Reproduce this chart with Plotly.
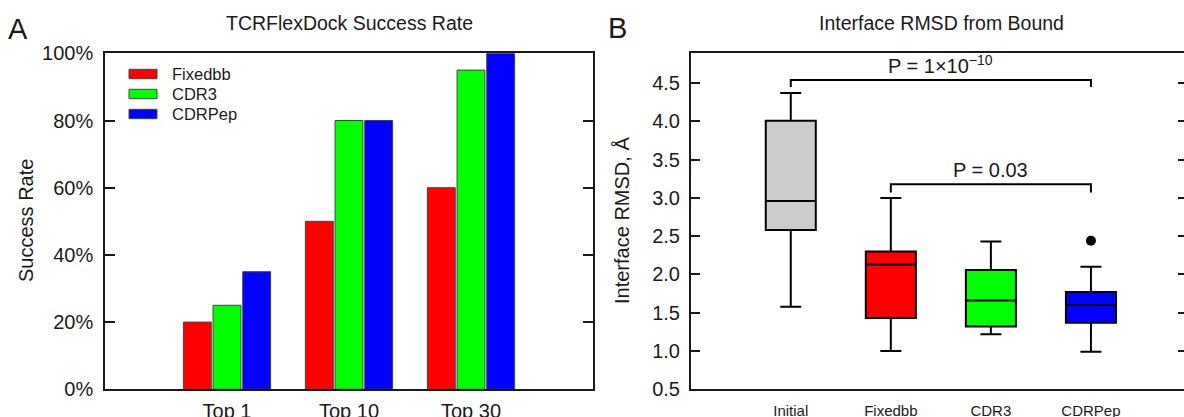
import plotly.graph_objects as go

# ---------------- data ----------------
# Panel A: success rate (%)
rank_categories = ["Top 1", "Top 10", "Top 30"]
series_names = ["Fixedbb", "CDR3", "CDRPep"]
fixedbb_rate = [20, 50, 60]
cdr3_rate = [25, 80, 95]
cdrpep_rate = [35, 80, 100]

# Panel B: interface RMSD box statistics (Å)
box_names = ["Initial", "Fixedbb", "CDR3", "CDRPep"]
box_q1 = [2.58, 1.43, 1.32, 1.37]
box_median = [2.96, 2.13, 1.66, 1.60]
box_q3 = [4.01, 2.30, 2.06, 1.77]
box_lower = [1.58, 1.00, 1.22, 0.99]
box_upper = [4.37, 3.00, 2.43, 2.10]
outlier_group = ["CDRPep"]
outlier_value = [2.44]

# significance brackets
bracket_from = ["Initial", "Fixedbb"]
bracket_to = ["CDRPep", "CDRPep"]
bracket_level = [4.54, 3.18]
bracket_drop = [4.45, 3.07]
bracket_label = ["P = 1×10<sup>−10</sup>", "P = 0.03"]

# ---------------- styling ----------------
W, H = 1184, 417
FONT = "Liberation Sans, Arial, Helvetica, sans-serif"
INK = "#1a1a1a"
bar_colors = ["#ff0000", "#00ff00", "#0000ff"]
box_colors = ["#cccccc", "#ff0000", "#00ff00", "#0000ff"]


def px(x):
    return x / W


def py(y):
    return 1 - y / H


fig = go.Figure()

for name, vals, col in zip(series_names, [fixedbb_rate, cdr3_rate, cdrpep_rate], bar_colors):
    fig.add_trace(go.Bar(
        x=rank_categories, y=vals, name=name, marker=dict(color=col, line=dict(color="#444444", width=1)),
        xaxis="x", yaxis="y", showlegend=False,
    ))

pos = {n: i + 1 for i, n in enumerate(box_names)}
for i, n in enumerate(box_names):
    fig.add_trace(go.Box(
        x=[pos[n]], q1=[box_q1[i]], median=[box_median[i]], q3=[box_q3[i]],
        lowerfence=[box_lower[i]], upperfence=[box_upper[i]],
        width=0.5, whiskerwidth=0.42, fillcolor=box_colors[i],
        line=dict(color="black", width=2), boxpoints=False,
        xaxis="x2", yaxis="y2", showlegend=False, name=n,
    ))

fig.add_trace(go.Scatter(
    x=[pos[g] for g in outlier_group], y=outlier_value, mode="markers",
    marker=dict(color="black", size=10), xaxis="x2", yaxis="y2", showlegend=False,
))
# invisible trace to keep right-side tick axis
fig.add_trace(go.Scatter(x=[1], y=[1], mode="markers", marker=dict(opacity=0),
                         xaxis="x2", yaxis="y3", showlegend=False, hoverinfo="skip"))

shapes = []
annotations = []
for f, t, lvl, drop, lab in zip(bracket_from, bracket_to, bracket_level, bracket_drop, bracket_label):
    x0, x1 = pos[f], pos[t]
    shapes.append(dict(type="path", xref="x2", yref="y2",
                       path=f"M {x0},{drop} L {x0},{lvl} L {x1},{lvl} L {x1},{drop}",
                       line=dict(color="black", width=2)))
    annotations.append(dict(x=(x0 + x1) / 2, y=lvl, xref="x2", yref="y2", text=lab,
                            showarrow=False, yanchor="bottom", yshift=1,
                            font=dict(family=FONT, size=20, color=INK)))

# manual legend for panel A
leg_y = [74, 94, 114]
for name, col, yy in zip(series_names, bar_colors, leg_y):
    shapes.append(dict(type="rect", xref="paper", yref="paper",
                       x0=px(129), x1=px(157), y0=py(yy + 4.7), y1=py(yy - 4.7),
                       fillcolor=col, line=dict(color="#444444", width=1)))
    annotations.append(dict(x=px(170), y=py(yy), xref="paper", yref="paper", text=name,
                            showarrow=False, xanchor="left", yanchor="middle",
                            font=dict(family=FONT, size=16.5, color=INK)))

# titles, panel letters, axis titles
annotations += [
    dict(x=px(349.5), y=py(23.5), xref="paper", yref="paper", text="TCRFlexDock Success Rate",
         showarrow=False, xanchor="center", yanchor="middle", font=dict(family=FONT, size=19.5, color=INK)),
    dict(x=px(941.5), y=py(23.5), xref="paper", yref="paper", text="Interface RMSD from Bound",
         showarrow=False, xanchor="center", yanchor="middle", font=dict(family=FONT, size=19.5, color=INK)),
    dict(x=px(18), y=py(29), xref="paper", yref="paper", text="A",
         showarrow=False, xanchor="center", yanchor="middle", font=dict(family=FONT, size=29, color=INK)),
    dict(x=px(617), y=py(28), xref="paper", yref="paper", text="B",
         showarrow=False, xanchor="center", yanchor="middle", font=dict(family=FONT, size=29, color=INK)),
    dict(x=px(26), y=py(221), xref="paper", yref="paper", text="Success Rate", textangle=-90,
         showarrow=False, xanchor="center", yanchor="middle", font=dict(family=FONT, size=20, color=INK)),
    dict(x=px(622), y=py(221), xref="paper", yref="paper", text="Interface RMSD, Å", textangle=-90,
         showarrow=False, xanchor="center", yanchor="middle", font=dict(family=FONT, size=20, color=INK)),
]

ydom = [py(389.3), py(53.3)]
axis_common = dict(showline=True, linecolor=INK, linewidth=1.5, showgrid=False, zeroline=False,
                   automargin=False)

fig.update_layout(
    width=W, height=H, margin=dict(l=0, r=0, t=0, b=0),
    paper_bgcolor="white", plot_bgcolor="white",
    font=dict(family=FONT, size=20, color=INK),
    barmode="group", bargap=0.27, bargroupgap=0.06,
    xaxis=dict(domain=[px(105), px(593)], type="category", range=[-1, 3], ticks="",
               mirror=True, tickfont=dict(size=20), ticklabelstandoff=3, **axis_common),
    yaxis=dict(domain=ydom, range=[0, 100], dtick=20, ticksuffix="%", ticks="inside", ticklen=10,
               tickwidth=1.5, tickcolor=INK, mirror="ticks", ticklabelstandoff=6,
               tickfont=dict(size=20), anchor="x", **axis_common),
    xaxis2=dict(domain=[px(690.7), 1], range=[0, 4.93], tickvals=[pos[n] for n in box_names],
                ticktext=box_names, ticks="", mirror=True, anchor="y2",
                tickfont=dict(size=15), ticklabelstandoff=7, **axis_common),
    yaxis2=dict(domain=ydom, range=[0.5, 4.89], dtick=0.5, tickformat=".1f", ticks="inside",
                ticklen=10, tickwidth=1.5, tickcolor=INK, mirror=False, anchor="x2",
                ticklabelstandoff=5, tickfont=dict(size=20), **axis_common),
    yaxis3=dict(domain=ydom, range=[0.5, 4.89], dtick=0.5, ticks="inside", ticklen=6,
                tickwidth=1.5, tickcolor=INK, overlaying="y2", side="right", anchor="x2",
                showticklabels=False, showline=False, showgrid=False, zeroline=False),
    shapes=shapes, annotations=annotations, showlegend=False,
)

fig.write_html("out.html", config={"displayModeBar": False},
               post_script="document.body.style.margin='0';document.body.style.overflow='hidden';")
